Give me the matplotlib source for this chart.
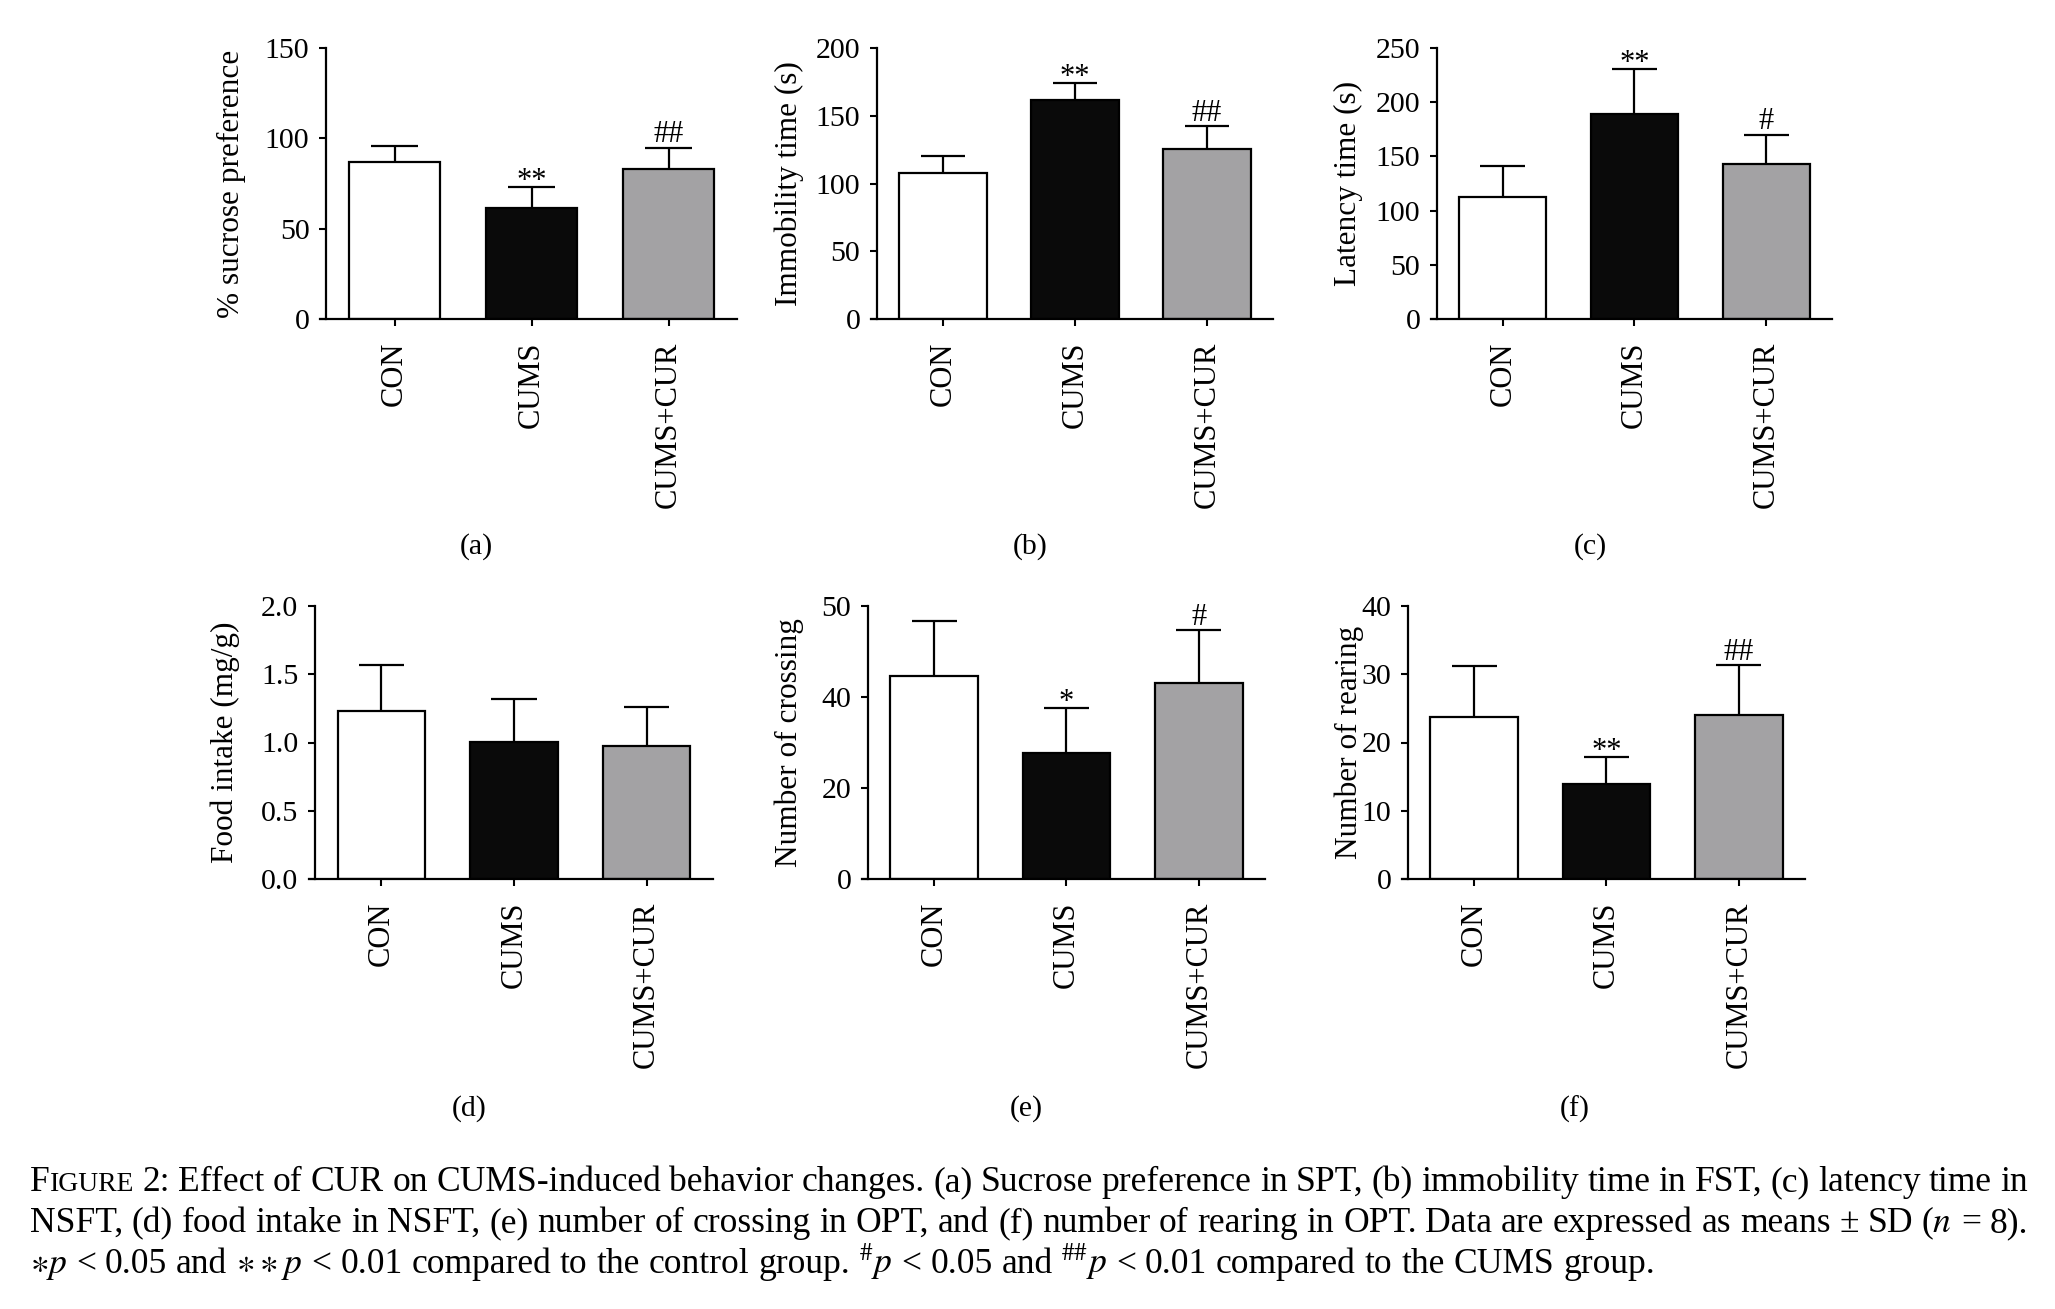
import numpy as np
import matplotlib
matplotlib.use('Agg')
import matplotlib.pyplot as plt

plt.rcParams['font.family'] = ['Liberation Serif', 'DejaVu Serif']
plt.rcParams['mathtext.fontset'] = 'stix'

groups = ['CON', 'CUMS', 'CUMS+CUR']
bar_colors = ['#ffffff', '#0a0a0a', '#a3a2a4']

sucrose = [87.0, 61.4, 83.3]
sucrose_sd = [8.7, 11.8, 11.6]
sucrose_sig = ['', '**', '##']

immobility = [107.9, 161.8, 125.1]
immobility_sd = [12.1, 12.6, 17.0]
immobility_sig = ['', '**', '##']

latency = [113.0, 188.9, 142.8]
latency_sd = [28.6, 41.4, 27.0]
latency_sig = ['', '**', '#']

food = [1.233, 1.001, 0.972]
food_sd = [0.337, 0.320, 0.290]
food_sig = ['', '', '']

crossing = [44.6, 27.6, 43.0]
crossing_sd = [12.1, 10.0, 11.7]
crossing_sig = ['', '*', '#']

rearing = [23.7, 13.9, 24.1]
rearing_sd = [7.5, 4.0, 7.2]
rearing_sig = ['', '**', '##']

ylabels = ['% sucrose preference', 'Immobility time (s)', 'Latency time (s)',
           'Food intake (mg/g)', 'Number of crossing', 'Number of rearing']
yticks = [[0, 50, 100, 150], [0, 50, 100, 150, 200], [0, 50, 100, 150, 200, 250],
          [0, 0.5, 1.0, 1.5, 2.0], [0, 20, 40, 60], [0, 10, 20, 30, 40]]
# the crossing axis in the original is labelled 50 at its top tick
yticklabels = [['0', '50', '100', '150'], ['0', '50', '100', '150', '200'],
               ['0', '50', '100', '150', '200', '250'],
               ['0.0', '0.5', '1.0', '1.5', '2.0'], ['0', '20', '40', '50'],
               ['0', '10', '20', '30', '40']]
letters = ['(a)', '(b)', '(c)', '(d)', '(e)', '(f)']

caption = [
    "FIGURE 2: Effect of CUR on CUMS-induced behavior changes. (a) Sucrose preference in SPT, (b) immobility time in FST, (c) latency time in",
    "NSFT, (d) food intake in NSFT, (e) number of crossing in OPT, and (f) number of rearing in OPT. Data are expressed as means \u00b1 SD ($n$ = 8).",
    r"$\ast$$p$ < 0.05 and $\ast\ast$$p$ < 0.01 compared to the control group. $^{\#}$$p$ < 0.05 and $^{\#\#}$$p$ < 0.01 compared to the CUMS group.",
]

values = [sucrose, immobility, latency, food, crossing, rearing]
errors = [sucrose_sd, immobility_sd, latency_sd, food_sd, crossing_sd, rearing_sd]
marks = [sucrose_sig, immobility_sig, latency_sig, food_sig, crossing_sig, rearing_sig]

W, H = 2055, 1309
fig = plt.figure(figsize=(W / 100, H / 100), dpi=100)

# axes boxes in pixels: left, top, width, height
boxes = [(320, 48, 417, 271), (871, 48, 402, 271), (1431, 48, 401, 271),
         (309, 606, 404, 273), (862, 606, 403, 273), (1402, 606, 403, 273)]
label_x = [-0.213, -0.204, -0.207, -0.208, -0.181, -0.131]
letter_pos = [(476, 547), (1030, 547), (1590, 547), (469, 1109), (1026, 1109), (1575, 1109)]

x = np.arange(len(groups))
for i in range(6):
    l, t, w, h = boxes[i]
    ax = fig.add_axes([l / W, 1 - (t + h) / H, w / W, h / H])
    vals = np.array(values[i])
    sd = np.array(errors[i])
    ax.bar(x, vals, width=0.66, color=bar_colors, edgecolor='black', linewidth=1.6, zorder=2)
    ax.vlines(x, vals, vals + sd, color='black', linewidth=1.6, zorder=3)
    ax.hlines(vals + sd, x - 0.17, x + 0.17, color='black', linewidth=1.6, zorder=3)
    for j in range(3):
        m = marks[i][j]
        if m:
            dy = -1.5 if '*' in m else 4
            ax.annotate(m, (x[j], vals[j] + sd[j]), xytext=(0, dy), textcoords='offset points',
                        ha='center', va='baseline', fontsize=22)
    ax.set_xlim(-0.545, 2.5)
    ax.set_ylim(yticks[i][0], yticks[i][-1])
    ax.set_yticks(yticks[i])
    ax.set_yticklabels(yticklabels[i])
    ax.set_xticks(x)
    ax.set_xticklabels(groups, rotation=90)
    for s in ['top', 'right']:
        ax.spines[s].set_visible(False)
    ax.spines['left'].set_position(('data', -0.5))
    ax.spines['left'].set_linewidth(1.6)
    ax.spines['bottom'].set_linewidth(1.6)
    ax.tick_params(axis='y', direction='out', length=5, width=1.5, pad=7, labelsize=21.5)
    ax.tick_params(axis='x', direction='out', length=5, width=1.5, pad=11, labelsize=22)
    ax.set_ylabel(ylabels[i], fontsize=22.5, va='center')
    ax.yaxis.set_label_coords(label_x[i], 0.5)
    fig.text(letter_pos[i][0] / W, 1 - letter_pos[i][1] / H, letters[i],
             ha='center', va='center', fontsize=21.5)

# caption, laid out word by word so the lines can be justified
renderer = fig.canvas.get_renderer()


def make_word(tok, fs):
    if tok == 'FIGURE':
        parts = [('F', fs), ('IGURE', fs * 0.78)]
    else:
        parts = [(tok, fs)]
    arts = [fig.text(0, 0, s, fontsize=f, ha='left', va='baseline') for s, f in parts]
    widths = [a.get_window_extent(renderer).width for a in arts]
    return arts, widths


def space_width(fs):
    a = fig.text(0, 0, 'n n', fontsize=fs)
    b = fig.text(0, 0, 'nn', fontsize=fs)
    sw = a.get_window_extent(renderer).width - b.get_window_extent(renderer).width
    a.remove()
    b.remove()
    return sw


# pick the caption size so the last (unjustified) line has the original length
test_words = [make_word(tok, 10) for tok in caption[2].split(' ')]
natural = sum(sum(wd) for _, wd in test_words) + space_width(10) * (len(test_words) - 1)
for arts, _ in test_words:
    for a in arts:
        a.remove()
cap_fs = 10 * 1632 / natural

x0, x1 = 30, 2028
baselines = [1191, 1232, 1273]
sw = space_width(cap_fs)
for k, line in enumerate(caption):
    words = [make_word(tok, cap_fs) for tok in line.split(' ')]
    total = sum(sum(wd) for _, wd in words)
    if k < len(caption) - 1:
        gap = (x1 - x0 - total) / (len(words) - 1)
    else:
        gap = sw
    cx = x0
    for arts, wd in words:
        for a, wv in zip(arts, wd):
            a.set_position((cx / W, 1 - baselines[k] / H))
            cx += wv
        cx += gap

fig.savefig('out.png', dpi=100)
